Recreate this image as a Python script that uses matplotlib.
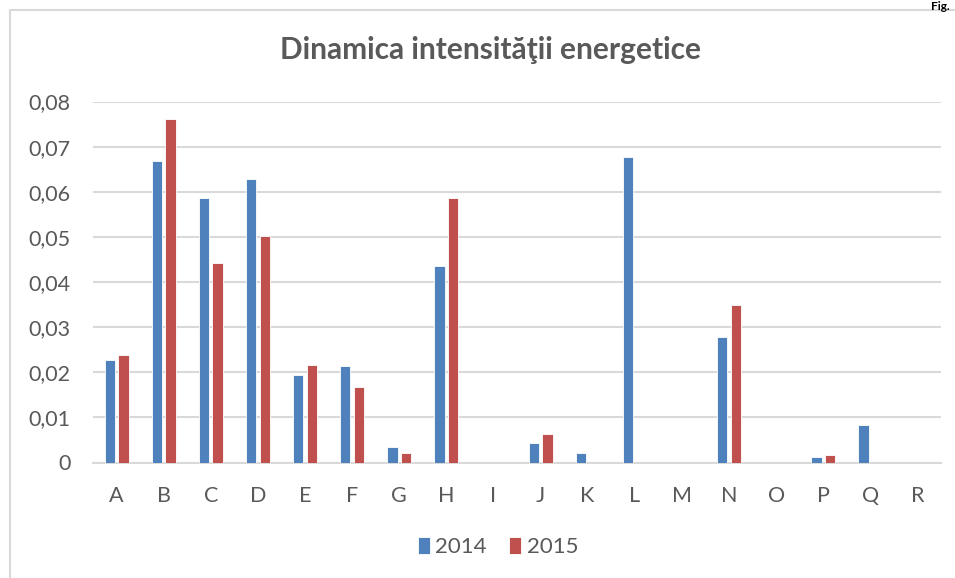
import matplotlib
matplotlib.use("Agg")
import matplotlib.pyplot as plt
import numpy as np
from matplotlib.patches import Rectangle

categories = ["A", "B", "C", "D", "E", "F", "G", "H", "I", "J", "K", "L", "M", "N", "O", "P", "Q", "R"]
values_2014 = [0.0227, 0.0668, 0.0586, 0.0628, 0.0194, 0.0214, 0.0034, 0.0435, 0.0, 0.0044, 0.0020, 0.0678, 0.0, 0.0279, 0.0, 0.0013, 0.0083, 0.0]
values_2015 = [0.0238, 0.0761, 0.0443, 0.0501, 0.0215, 0.0167, 0.0021, 0.0587, 0.0, 0.0064, 0.0, 0.0, 0.0, 0.0349, 0.0, 0.0017, 0.0, 0.0]
series_names = ["2014", "2015"]
yticks = [0, 0.01, 0.02, 0.03, 0.04, 0.05, 0.06, 0.07, 0.08]
ytick_labels = ["0", "0,01", "0,02", "0,03", "0,04", "0,05", "0,06", "0,07", "0,08"]
title = "Dinamica intensităţii energetice"

plt.rcParams['font.family'] = ['Lato', 'DejaVu Sans']
text_color = "#595959"
grid_color = "#D9D9D9"
c14 = "#4F81BD"
c15 = "#C0504D"

fig = plt.figure(figsize=(9.55, 5.78), dpi=100)
fig.patch.set_facecolor("white")

# chart border
fig.patches.append(Rectangle((10/955, -0.05), 1.1, 1 - 10/578 + 0.05, transform=fig.transFigure,
                             fill=False, edgecolor=grid_color, linewidth=1.5, zorder=0))

ax = fig.add_axes([93/955, (578-462.5)/578, (941-93)/955, (462.5-101.5)/578])
x = np.arange(len(categories))
w = 0.22
ax.bar(x - 0.145, values_2014, width=w, color=c14, edgecolor="white", linewidth=0.6, label=series_names[0], zorder=3)
ax.bar(x + 0.145, values_2015, width=w, color=c15, edgecolor="white", linewidth=0.6, label=series_names[1], zorder=3)

ax.set_xlim(-0.5, len(categories) - 0.5)
ax.set_ylim(0, 0.08)
ax.set_yticks(yticks)
ax.set_yticklabels(ytick_labels)
ax.set_xticks(x)
ax.set_xticklabels(categories)
ax.tick_params(axis='both', length=0, labelsize=15.5, labelcolor=text_color)
ax.tick_params(axis='y', pad=16)
ax.tick_params(axis='x', pad=17)
ax.grid(axis='y', color=grid_color, linewidth=1.5, zorder=0)
ax.set_axisbelow(True)
for s in ["top", "right", "left"]:
    ax.spines[s].set_visible(False)
ax.spines["bottom"].set_color(grid_color)
ax.spines["bottom"].set_linewidth(1.5)

fig.text(490/955, 1 - 50/578, title, ha='center', va='center', fontsize=21.5,
         fontweight='bold', color=text_color)

leg = fig.legend(loc='center', bbox_to_anchor=(498/955, 1 - 547/578), ncol=2, frameon=False,
                 fontsize=16, handlelength=0.55, handleheight=0.85, handletextpad=0.25,
                 columnspacing=1.0, labelcolor=text_color)

fig.text(950/955, 1 - 1/578, "Fig.", ha='right', va='top', fontsize=8.5,
         fontweight='bold', color='black')

fig.savefig("out.png", dpi=100)
